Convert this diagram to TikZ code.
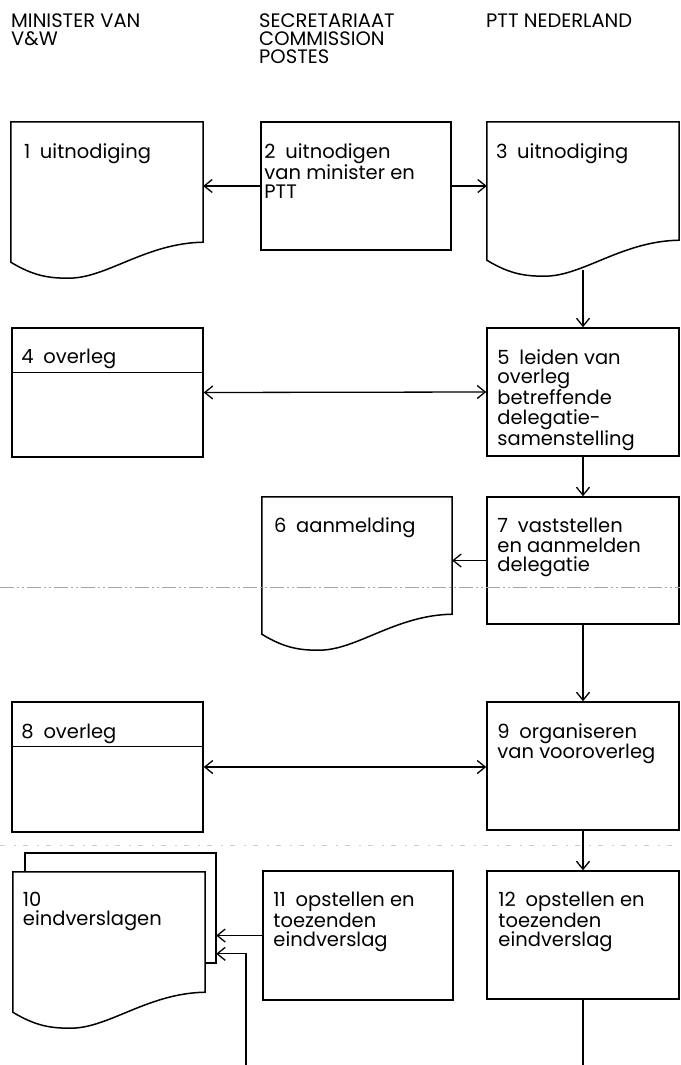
\documentclass[tikz,border=0pt]{standalone}
\usepackage{fontspec}
\setmainfont{Poppins}
\usepackage{tikz}
\usetikzlibrary{positioning, arrows.meta, calc}

\tikzset{
  procline/.style={line width=1.5pt, line join=miter},
  procbox/.style={draw, procline, inner sep=0pt, minimum width=192pt, minimum height=128pt},
  docbox/.style={inner sep=0pt, minimum width=192pt},
  boxtext/.style={inner sep=0pt, align=left, font=\fontsize{19.5}{19.4}\selectfont},
  headtext/.style={anchor=north west, inner sep=0pt, align=left, font=\fontsize{19.5}{18}\selectfont},
  flowline/.style={line width=1.3pt},
  flow/.style={->, flowline},
  pagefold/.style={gray!70, line width=0.8pt, dash pattern=on 14pt off 3pt on 2pt off 3pt on 2pt off 3pt},
  faintfold/.style={gray!40, line width=0.7pt, dash pattern=on 5pt off 9pt on 2pt off 7pt}
}

% document symbol: straight top, wavy bottom
\newcommand{\docoutline}[1]{%
  \draw[procline] (#1.south east) -- (#1.north east) -- (#1.north west) -- ([yshift=-20pt]#1.south west)
    .. controls ($(#1.south west)!0.12!(#1.south east)+(0,34)$) and ($(#1.south west)!0.2!(#1.south east)+(0,36)$) .. ($(#1.south west)!0.3!(#1.south east)+(0,36)$)
    .. controls ($(#1.south west)!0.5!(#1.south east)+(0,36)$) and ($(#1.south west)!0.7!(#1.south east)+(0,1)$) .. (#1.south east) -- cycle;
}

\begin{document}
\begin{tikzpicture}[x=1pt, y=-1pt, >={Straight Barb[length=8pt, width=13pt]}]
\useasboundingbox (0,0) rectangle (680,1065);

% Column heads
\node[headtext] (hmin) at (11,14) {MINISTER VAN\\V\&W};
\node[headtext] (hsec) at (259,14) {SECRETARIAAT\\COMMISSION\\POSTES};
\node[headtext] (hptt) at (486,14) {PTT NEDERLAND};

% Row 1: invitations
\node[docbox, minimum height=120pt] (d1) at (107,182) {};
\node[procbox, minimum width=190pt] (p2) at (356,186) {};
\node[docbox, minimum height=118pt] (d3) at (583,181) {};
\docoutline{d1}
\docoutline{d3}
\node[boxtext, below right=22pt and 13pt of d1.north west] (t1) {1\enspace uitnodiging};
\node[boxtext, below right=22pt and 4pt of p2.north west] (t2) {2\enspace uitnodigen\\van minister en\\PTT};
\node[boxtext, below right=22pt and 9pt of d3.north west] (t3) {3\enspace uitnodiging};
\draw[flow] (p2.west) -- (p2.west -| d1.east);
\draw[flow] (p2.east) -- (p2.east -| d3.west);

% Row 2: consultation
\node[procbox, minimum width=191pt, minimum height=129pt] (p4) at (107.5,392.5) {};
\draw[procline] ([yshift=-45pt]p4.north west) -- ([yshift=-45pt]p4.north east);
\node[procbox] (p5) at (583,392) {};
\node[boxtext, below right=22pt and 10pt of p4.north west] (t4) {4\enspace overleg};
\node[boxtext, below right=22pt and 11pt of p5.north west] (t5) {5\enspace leiden van\\overleg\\betreffende\\delegatie-\\samenstelling};
\coordinate (d3foot) at (583,270);
\draw[flow] (d3foot) -- (p5.north);
\draw[<->, flowline] (p4.east) -- (p5.west);

% Row 3: registration
\node[docbox, minimum width=190pt, minimum height=117pt] (d6) at (357,555.5) {};
\docoutline{d6}
\node[procbox, minimum height=127pt] (p7) at (583,560.5) {};
\node[boxtext, below right=21pt and 12pt of d6.north west] (t6) {6\enspace aanmelding};
\node[boxtext, below right=22pt and 11pt of p7.north west] (t7) {7\enspace vaststellen\\en aanmelden\\delegatie};
\draw[flow] (p5.south) -- (p7.north);
\draw[flow] (p7.west) -- (p7.west -| d6.east);

% Fold line
\coordinate (foldL) at (0,587);
\coordinate (foldR) at (680,587);
\draw[pagefold] (foldL) -- (foldR);

% Row 4: preliminary consultation
\node[procbox, minimum width=191pt, minimum height=130pt] (p8) at (107.5,767) {};
\draw[procline] ([yshift=-45pt]p8.north west) -- ([yshift=-45pt]p8.north east);
\node[procbox] (p9) at (583,766) {};
\node[boxtext, below right=23pt and 10pt of p8.north west] (t8) {8\enspace overleg};
\node[boxtext, below right=22pt and 11pt of p9.north west] (t9) {9\enspace organiseren\\van vooroverleg};
\draw[flow] (p7.south) -- (p9.north);
\draw[<->, flowline] (p8.east) -- (p8.east -| p9.west);

% Faint second fold
\coordinate (fold2L) at (0,845);
\coordinate (fold2R) at (680,845);
\draw[faintfold] (fold2L) -- (fold2R);

% Row 5: final reports
\node[docbox, minimum height=120pt] (d10) at (109,932) {};
\draw[procline] ([xshift=12pt]d10.north west) -- ++(0,-19) -| ([xshift=11pt,yshift=-91pt]d10.north east) -- ([yshift=-91pt]d10.north east);
\docoutline{d10}
\node[procbox, minimum width=190pt, minimum height=129pt] (p11) at (358,935.5) {};
\node[procbox] (p12) at (583,935) {};
\node[boxtext, below right=20pt and 10pt of d10.north west] (t10) {10\\eindverslagen};
\node[boxtext, below right=22pt and 11pt of p11.north west] (t11) {11\enspace opstellen en\\toezenden\\eindverslag};
\node[boxtext, below right=22pt and 12pt of p12.north west] (t12) {12\enspace opstellen en\\toezenden\\eindverslag};
\draw[flow] (p9.south) -- (p12.north);
\coordinate (d10back) at ([xshift=11pt]d10.north east);
\draw[flow] (p11.west) -- (p11.west -| d10back);
\coordinate (fbin) at (246,1066);
\draw[flow] (fbin) |- ([yshift=-82pt]d10back);
\coordinate (p12out) at (p12.south |- fbin);
\draw[flowline] (p12.south) -- (p12out);

\end{tikzpicture}
\end{document}
